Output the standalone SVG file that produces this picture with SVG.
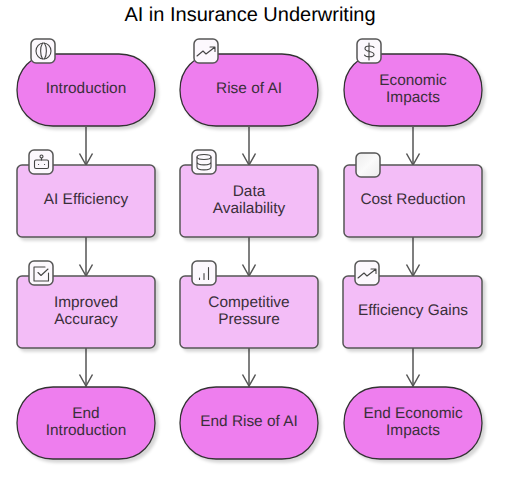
<svg xmlns="http://www.w3.org/2000/svg" width="515" height="504" viewBox="0 0 515 504">
<style>
text{font-family:"Liberation Sans",Arial,sans-serif;font-size:15.4px;fill:#3a2f3a;text-anchor:middle;text-rendering:geometricPrecision}
.title{font-size:20px;fill:#000}
.t{fill:#ee7eee;stroke:#333;stroke-width:1.3;filter:url(#s)}
.r{fill:#f3bdf7;stroke:#555;stroke-width:1.5;filter:url(#s)}
.b{fill:#fcf8fd;stroke:#555;stroke-width:1.5}
.i{fill:none;stroke:#444;stroke-width:1.1;stroke-linecap:round;stroke-linejoin:round}
.c{fill:none;stroke:#555;stroke-width:1.5}
</style>
<defs>
<filter id="s" x="-10%" y="-10%" width="125%" height="130%"><feDropShadow dx="3" dy="3" stdDeviation="1.5" flood-color="#000" flood-opacity="0.16"/></filter>
<linearGradient id="g" x1="0" y1="0" x2="1" y2="1"><stop offset="0" stop-color="#ececec"/><stop offset="0.5" stop-color="#fafafa"/><stop offset="1" stop-color="#ececec"/></linearGradient>
<marker id="a" markerUnits="userSpaceOnUse" markerWidth="15" markerHeight="16" refX="12.500" refY="8" orient="auto" viewBox="0 0 15 16"><path d="M1 1.500L12.500 8L1 14.500" fill="none" stroke="#555" stroke-width="1.5"/></marker>
<path id="trend" d="M0 9L6 4L9 7L18 0M13 0H18V4.500" class="i"/>
<path id="pill" d="M36 0H102C124 0 138 16 138 36C138 56 124 72 102 72H36C14 72 0 56 0 36C0 16 14 0 36 0Z"/>
</defs>
<text class="title" x="250" y="21">AI in Insurance Underwriting</text>
<g id="connectors">
<path class="c" marker-end="url(#a)" d="M86 127V165"/><path class="c" marker-end="url(#a)" d="M86 237V276"/><path class="c" marker-end="url(#a)" d="M86 348V386"/>
<path class="c" marker-end="url(#a)" d="M249 127V165"/><path class="c" marker-end="url(#a)" d="M249 237V276"/><path class="c" marker-end="url(#a)" d="M249 348V386"/>
<path class="c" marker-end="url(#a)" d="M413 127V165"/><path class="c" marker-end="url(#a)" d="M413 237V276"/><path class="c" marker-end="url(#a)" d="M413 348V386"/>
</g>
<g id="n-introduction"><use href="#pill" class="t" x="17" y="54"/><rect class="b" x="31" y="39" width="24" height="24" rx="5"/><ellipse class="i" cx="43.500" cy="51" rx="7.500" ry="8"/><path class="i" d="M42.500 43.200C40 47 40 55 42.500 58.800M44.500 43.200C47 47 47 55 44.500 58.800"/><text x="86" y="93">Introduction</text></g>
<g id="n-rise"><use href="#pill" class="t" x="180" y="54"/><rect class="b" x="194" y="39" width="24" height="24" rx="5"/><use href="#trend" x="197" y="47"/><text x="249" y="93">Rise of AI</text></g>
<g id="n-economic"><use href="#pill" class="t" x="344" y="54"/><rect class="b" x="357" y="39" width="24" height="24" rx="5"/><path class="i" d="M369 43V60M374 47.500C373 45.500 365 45 365 48.500C365 52.500 374 50.500 374 54.500C374 57.500 366 57.500 364.500 55"/><text x="413" y="84.500">Economic</text><text x="413" y="101.500">Impacts</text></g>
<g id="n-ai-efficiency"><rect class="r" x="17" y="165" width="138" height="72" rx="5"/><rect class="b" x="29" y="150" width="24" height="24" rx="5"/><rect class="i" x="34.500" y="160" width="14" height="8.500" rx="1.500"/><circle class="i" cx="41.500" cy="156.500" r="1.500"/><path class="i" d="M41.500 158V160M38.500 164.500H38.600M44.500 164.500H44.600"/><text x="86" y="204">AI Efficiency</text></g>
<g id="n-data"><rect class="r" x="180" y="165" width="138" height="72" rx="5"/><rect class="b" x="192" y="150" width="24" height="24" rx="5"/><ellipse class="i" cx="204" cy="157" rx="7" ry="2.500"/><path class="i" d="M197 157V167C197 170.800 211 170.800 211 167V157M197 162C197 165.800 211 165.800 211 162"/><text x="249" y="195.500">Data</text><text x="249" y="212.500">Availability</text></g>
<g id="n-cost"><rect class="r" x="344" y="165" width="138" height="72" rx="5"/><rect x="356" y="153" width="24" height="24" rx="5" fill="url(#g)" stroke="#555" stroke-width="1.500"/><text x="413" y="204">Cost Reduction</text></g>
<g id="n-accuracy"><rect class="r" x="17" y="276" width="138" height="72" rx="5"/><rect class="b" x="29" y="261" width="24" height="24" rx="5"/><path class="i" d="M48.500 273V281H34V267H45"/><path class="i" d="M38 272.500L41 275.500L48 269"/><text x="86" y="307">Improved</text><text x="86" y="324">Accuracy</text></g>
<g id="n-competitive"><rect class="r" x="180" y="276" width="138" height="72" rx="5"/><rect class="b" x="192" y="261" width="24" height="24" rx="5"/><path class="i" d="M199.500 278V279.500M204 273.500V279.500M208.500 267.500V279.500"/><text x="249" y="307">Competitive</text><text x="249" y="324">Pressure</text></g>
<g id="n-gains"><rect class="r" x="343" y="276" width="139" height="72" rx="5"/><rect class="b" x="355" y="261" width="24" height="24" rx="5"/><use href="#trend" x="358" y="269"/><text x="413" y="315">Efficiency Gains</text></g>
<g id="n-end-intro"><use href="#pill" class="t" x="17" y="387"/><text x="86" y="418">End</text><text x="86" y="435">Introduction</text></g>
<g id="n-end-rise"><use href="#pill" class="t" x="180" y="387"/><text x="249" y="426">End Rise of AI</text></g>
<g id="n-end-econ"><use href="#pill" class="t" x="344" y="387"/><text x="413" y="418">End Economic</text><text x="413" y="435">Impacts</text></g>
</svg>
